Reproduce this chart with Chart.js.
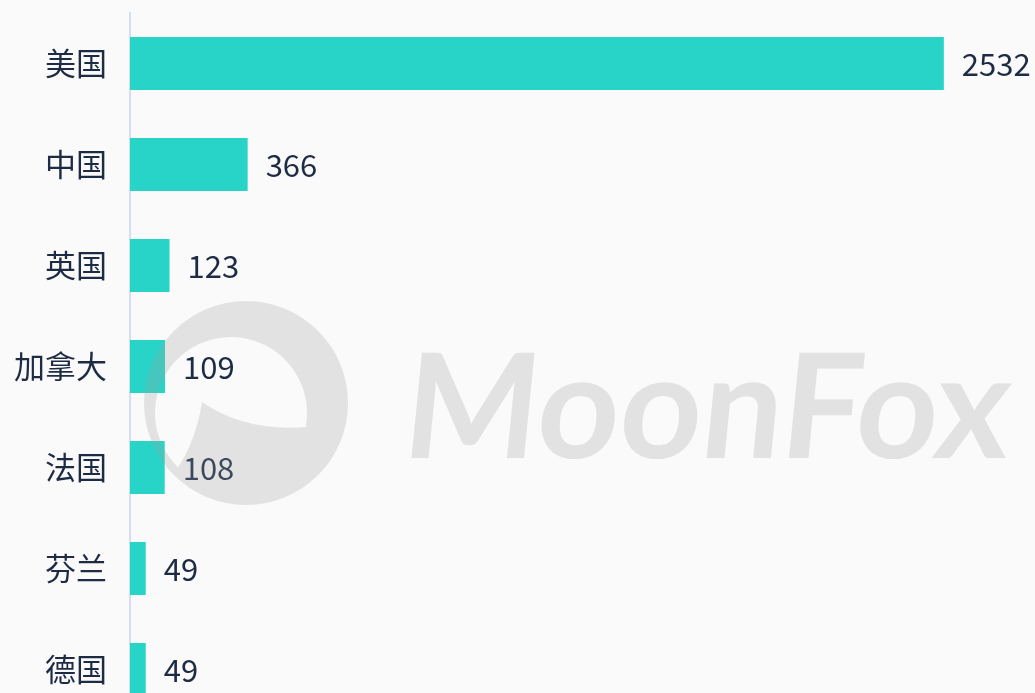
<!DOCTYPE html>
<html>
<head>
<meta charset="utf-8">
<script src="https://cdn.jsdelivr.net/npm/chart.js@4.4.0/dist/chart.umd.min.js"></script>
<style>
  html, body { margin: 0; padding: 0; background: #fafafa; overflow: hidden; }
  #wrap { position: relative; width: 1035px; height: 720px; }
</style>
</head>
<body>
<div id="wrap"><canvas id="countryChart"></canvas></div>
<script>
const countries = ['美国', '中国', '英国', '加拿大', '法国', '芬兰', '德国'];
const counts = [2532, 366, 123, 109, 108, 49, 49];

const TEXT_COLOR = '#1d2b45';
const BAR_COLOR = '#28d4c8';
const FONT = "'Noto Sans CJK SC', 'Noto Sans', sans-serif";

// value labels at the end of each bar
const valueLabels = {
    id: 'valueLabels',
    afterDatasetsDraw(chart) {
        const ctx = chart.ctx;
        const meta = chart.getDatasetMeta(0);
        ctx.save();
        ctx.font = '31px ' + FONT;
        ctx.fillStyle = TEXT_COLOR;
        ctx.textAlign = 'left';
        ctx.textBaseline = 'middle';
        meta.data.forEach((bar, i) => {
            ctx.fillText(String(counts[i]), bar.x + 18, bar.y + 1);
        });
        ctx.restore();
    }
};

// MoonFox watermark, drawn over everything
const watermark = {
    id: 'watermark',
    afterDraw(chart) {
        const ctx = chart.ctx;
        ctx.save();
        ctx.globalAlpha = 0.26;
        ctx.fillStyle = '#a0a0a0';

        // logo: disk with a moon shaped hole
        ctx.beginPath();
        ctx.arc(246, 403, 102, 0, Math.PI * 2);
        const a0 = Math.atan2(427 - 413, 307 - 231);
        const a1 = Math.atan2(483 - 413, 163 - 231);
        ctx.moveTo(307, 427);
        ctx.arc(231, 413, 76, a0, a1, true);
        ctx.quadraticCurveTo(196, 440, 202, 402);
        ctx.quadraticCurveTo(245, 432, 307, 427);
        ctx.closePath();
        ctx.fill('evenodd');

        // text
        ctx.font = "bold 150px Lato, 'DejaVu Sans', sans-serif";
        ctx.textBaseline = 'alphabetic';
        const w = ctx.measureText('MoonFox').width;
        ctx.translate(400, 458);
        ctx.transform(1, 0, -0.1, 1, 0, 0);
        ctx.scale(606 / w, 0.97);
        ctx.fillText('MoonFox', 0, 0);
        ctx.restore();
    }
};

new Chart(document.getElementById('countryChart').getContext('2d'), {
    type: 'bar',
    data: {
        labels: countries,
        datasets: [{
            data: counts,
            backgroundColor: BAR_COLOR,
            borderWidth: 0,
            categoryPercentage: 1,
            barPercentage: 0.525
        }]
    },
    options: {
        indexAxis: 'y',
        responsive: true,
        maintainAspectRatio: false,
        animation: false,
        layout: { padding: { top: 13, left: 0, right: 5, bottom: 0 } },
        plugins: {
            legend: { display: false },
            tooltip: { enabled: false }
        },
        scales: {
            x: {
                display: false,
                min: 0,
                max: 2800
            },
            y: {
                grid: { display: false, drawTicks: false },
                border: { display: true, color: '#d3dff0', width: 2 },
                ticks: {
                    color: TEXT_COLOR,
                    font: { family: FONT, size: 31 },
                    padding: 23
                },
                afterFit(scale) {
                    scale.width = 130;
                    scale.paddingTop = 0;
                    scale.paddingBottom = 0;
                }
            }
        }
    },
    plugins: [valueLabels, watermark]
});
</script>
</body>
</html>
